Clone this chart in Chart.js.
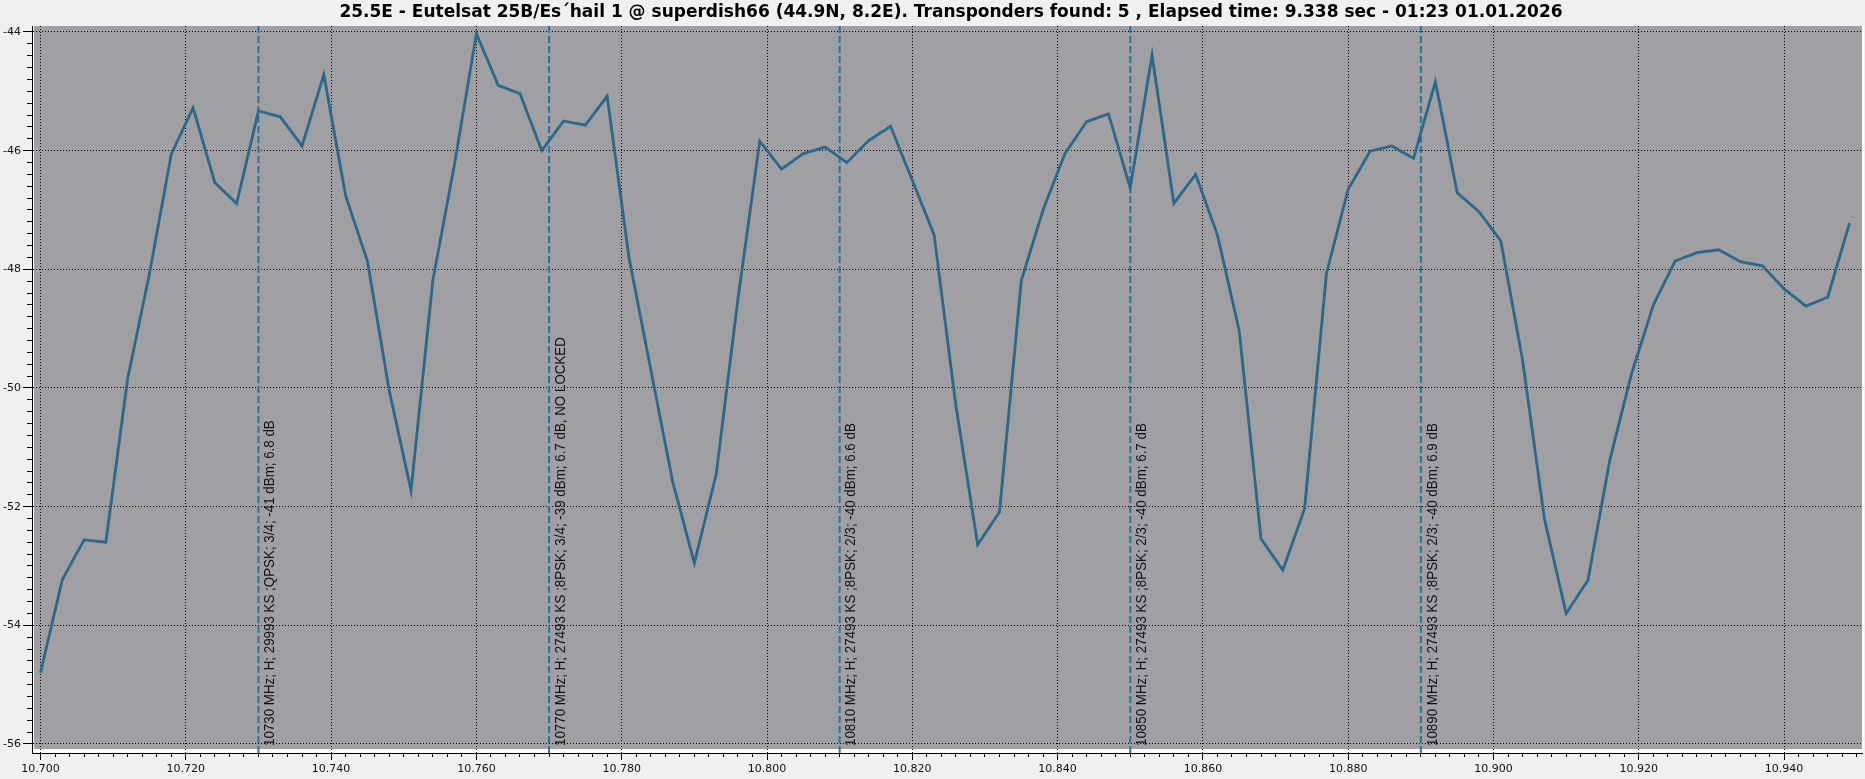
<!DOCTYPE html>
<html>
<head>
<meta charset="utf-8">
<script src="https://cdn.jsdelivr.net/npm/chart.js@4.4.1/dist/chart.umd.min.js"></script>
<style>
  html, body { margin: 0; padding: 0; background: #f0f0f0; }
  #wrap { position: relative; width: 1865px; height: 779px; }
</style>
</head>
<body>
<div id="wrap"><canvas id="scan"></canvas></div>
<script>
const TITLE = "25.5E - Eutelsat 25B/Es\u00B4hail 1 @ superdish66 (44.9N, 8.2E). Transponders found: 5 , Elapsed time: 9.338 sec - 01:23 01.01.2026";

// frequency (GHz) of each scan sample
const freqs = [
  10.700, 10.703, 10.706, 10.709, 10.712, 10.715, 10.718, 10.721, 10.724, 10.727,
  10.730, 10.733, 10.736, 10.739, 10.742, 10.745, 10.748, 10.751, 10.754, 10.757,
  10.760, 10.763, 10.766, 10.769, 10.772, 10.775, 10.778, 10.781, 10.784, 10.787,
  10.790, 10.793, 10.796, 10.799, 10.802, 10.805, 10.808, 10.811, 10.814, 10.817,
  10.820, 10.823, 10.826, 10.829, 10.832, 10.835, 10.838, 10.841, 10.844, 10.847,
  10.850, 10.853, 10.856, 10.859, 10.862, 10.865, 10.868, 10.871, 10.874, 10.877,
  10.880, 10.883, 10.886, 10.889, 10.892, 10.895, 10.898, 10.901, 10.904, 10.907,
  10.910, 10.913, 10.916, 10.919, 10.922, 10.925, 10.928, 10.931, 10.934, 10.937,
  10.940, 10.943, 10.946, 10.949
];

// signal level (dBm)
const levels = [
  -54.80, -53.23, -52.56, -52.60, -49.84, -48.07, -46.06, -45.28, -46.54, -46.89,
  -45.33, -45.43, -45.92, -44.72, -46.76, -47.86, -50.04, -51.73, -48.19, -46.22,
  -44.03, -44.90, -45.04, -46.00, -45.50, -45.57, -45.08, -47.80, -49.69, -51.57,
  -52.95, -51.46, -48.50, -45.84, -46.31, -46.05, -45.94, -46.20, -45.83, -45.59,
  -46.50, -47.42, -50.30, -52.64, -52.09, -48.19, -47.00, -46.05, -45.51, -45.38,
  -46.63, -44.39, -46.89, -46.40, -47.42, -49.04, -52.54, -53.07, -52.03, -48.07,
  -46.65, -46.01, -45.92, -46.13, -44.84, -46.71, -47.03, -47.52, -49.53, -52.20,
  -53.80, -53.24, -51.22, -49.76, -48.60, -47.86, -47.72, -47.67, -47.87, -47.94,
  -48.33, -48.62, -48.47, -47.22
];

// transponders found (GHz) and their info text
const tpFreqs = [10.730, 10.770, 10.810, 10.850, 10.890];
const tpLabels = [
  "10730 MHz; H; 29993 KS ;QPSK; 3/4; -41 dBm; 6.8 dB",
  "10770 MHz; H; 27493 KS ;8PSK; 3/4; -39 dBm; 6.7 dB, NO LOCKED",
  "10810 MHz; H; 27493 KS ;8PSK; 2/3; -40 dBm; 6.6 dB",
  "10850 MHz; H; 27493 KS ;8PSK; 2/3; -40 dBm; 6.7 dB",
  "10890 MHz; H; 27493 KS ;8PSK; 2/3; -40 dBm; 6.9 dB"
];

const X_MIN = 10.69883, X_MAX = 10.95072;
const Y_MIN = -56.152, Y_MAX = -43.899;

const LINE = "#2b6889";
const MARK = "#2f7294";

const datasets = [{
  data: freqs.map((f, i) => ({ x: f, y: levels[i] })),
  borderColor: LINE, borderWidth: 2.8, pointRadius: 0, tension: 0, order: 0
}];
tpFreqs.forEach((f) => {
  datasets.push({
    data: [{ x: f, y: Y_MIN }, { x: f, y: Y_MAX }],
    borderColor: MARK, borderWidth: 2, borderDash: [7, 3], pointRadius: 0, order: 1
  });
});

const frame = {
  id: "frame",
  beforeDraw(chart) {
    const { ctx, chartArea: a } = chart;
    ctx.save();
    ctx.fillStyle = "#ffffff";
    ctx.fillRect(a.left, a.top, a.right - a.left + 2, a.bottom - a.top);
    ctx.fillStyle = "#a0a0a4";
    ctx.fillRect(a.left + 2, a.top, a.right - a.left - 2, a.bottom - a.top - 4);
    ctx.restore();
  },
  afterDatasetsDraw(chart) {
    const { ctx, chartArea: a, scales } = chart;
    ctx.save();
    ctx.fillStyle = "#111";
    // narrow look: regular sans squeezed along the text direction
    ctx.font = '15px "Liberation Sans", Arial, sans-serif';
    ctx.textAlign = "left";
    ctx.textBaseline = "top";
    tpFreqs.forEach((f, i) => {
      const px = scales.x.getPixelForValue(f);
      ctx.save();
      ctx.translate(px + 4, a.bottom - 7);
      ctx.rotate(-Math.PI / 2);
      ctx.scale(0.89, 1);
      ctx.fillText(tpLabels[i], 0, 0);
      ctx.restore();
    });
    ctx.fillStyle = "#000";
    ctx.font = 'bold 17px "DejaVu Sans", sans-serif';
    ctx.textAlign = "center";
    ctx.textBaseline = "middle";
    ctx.fillText(TITLE, (a.left + a.right) / 2 + 4, 13);
    ctx.restore();
  }
};

const tickFont = { family: '"DejaVu Sans", sans-serif', size: 11 };

new Chart(document.getElementById("scan"), {
  type: "line",
  data: { datasets },
  plugins: [frame],
  options: {
    responsive: true, maintainAspectRatio: false, animation: false,
    layout: { padding: { top: 26, right: 3, left: 0, bottom: 0 } },
    plugins: { legend: { display: false }, tooltip: { enabled: false }, title: { display: false } },
    scales: {
      x: {
        type: "linear", position: "bottom", weight: 1, min: X_MIN, max: X_MAX,
        ticks: { stepSize: 0.02, includeBounds: false, autoSkip: false, maxRotation: 0, padding: 3,
                 color: "#111", font: tickFont, callback: (v) => v.toFixed(3) },
        grid: { color: "#000", lineWidth: 1, tickLength: 7, tickColor: "#000", tickBorderDash: [] },
        border: { display: true, color: "#000", width: 1, dash: [1, 2] },
        afterFit: (s) => { s.height = 26; }
      },
      xMinor: {
        type: "linear", position: "bottom", weight: 0, min: X_MIN, max: X_MAX,
        ticks: { display: false, stepSize: 0.002, includeBounds: false },
        grid: { drawOnChartArea: false, tickLength: 4, tickColor: "#000" },
        border: { display: false },
        afterFit: (s) => { s.height = 0; }
      },
      y: {
        type: "linear", position: "left", weight: 1, min: Y_MIN, max: Y_MAX,
        ticks: { stepSize: 2, includeBounds: false, padding: 2, color: "#111", font: tickFont },
        grid: { color: "#000", lineWidth: 1, tickLength: 9, tickColor: "#000", tickBorderDash: [] },
        border: { display: true, color: "#000", width: 1, dash: [1, 2] },
        afterFit: (s) => { s.width = 32; }
      },
      yMinor: {
        type: "linear", position: "left", weight: 0, min: Y_MIN, max: Y_MAX,
        ticks: { display: false, stepSize: 0.2, includeBounds: false },
        grid: { drawOnChartArea: false, tickLength: 5, tickColor: "#000" },
        border: { display: false },
        afterFit: (s) => { s.width = 0; }
      }
    }
  }
});
</script>
</body>
</html>
